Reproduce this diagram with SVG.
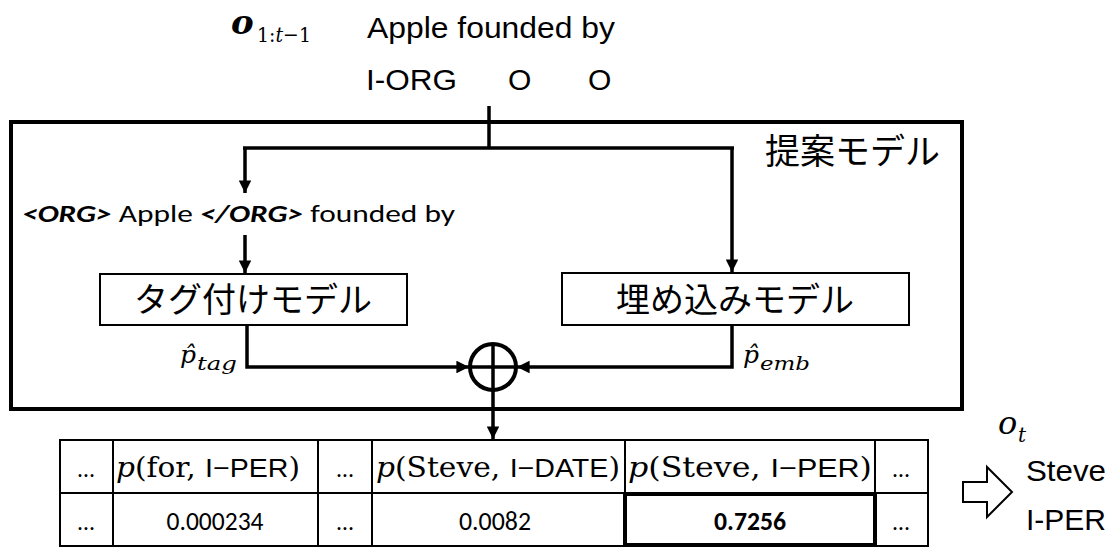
<svg xmlns="http://www.w3.org/2000/svg" width="1115" height="548" viewBox="0 0 1115 548">
<style>
.sans{font-family:"Liberation Sans",Arial,sans-serif;fill:#000}
.cal{font-family:"Carlito","Liberation Sans",sans-serif;fill:#000}
.jp{font-family:"Noto Sans CJK JP","Noto Sans",sans-serif;fill:#000}
.math{font-family:"DejaVu Serif","Liberation Serif",serif;font-style:italic;fill:#000}
.rm{font-family:"DejaVu Serif","Liberation Serif",serif;font-style:normal;fill:#000}
.line{fill:none;stroke:#000;stroke-width:3.5}
.box{fill:#fff;stroke:#000;stroke-width:2}
.cell{fill:none;stroke:#000;stroke-width:2}
</style>
<defs>
<marker id="ah" viewBox="0 0 10 10" refX="10" refY="5" markerWidth="3.6" markerHeight="3.6" orient="auto" markerUnits="strokeWidth">
<path d="M0,0 L10,5 L0,10 z" fill="#000"/>
</marker>
</defs>

<g id="input">
<text class="math" x="231" y="34" font-size="34" font-weight="bold">o</text>
<text class="rm" x="257" y="42" font-size="21" textLength="54" lengthAdjust="spacingAndGlyphs">1:<tspan class="math">t</tspan>−1</text>
<text class="sans" x="367" y="38" font-size="30" textLength="248" lengthAdjust="spacingAndGlyphs">Apple  founded by</text>
<text class="sans" x="366" y="90" font-size="30" textLength="91" lengthAdjust="spacingAndGlyphs">I-ORG</text>
<text class="sans" x="508" y="90" font-size="30">O</text>
<text class="sans" x="588" y="90" font-size="30">O</text>
</g>

<g id="proposed-model">
<rect x="11" y="122" width="951" height="287" fill="none" stroke="#000" stroke-width="4"/>
<text class="jp" x="765" y="164" font-size="35">提案モデル</text>
</g>

<g id="tagged-text">
<text class="cal" x="22" y="222" font-size="25" textLength="433" lengthAdjust="spacingAndGlyphs"><tspan font-weight="bold" font-style="italic">&lt;ORG&gt;</tspan> Apple <tspan font-weight="bold" font-style="italic">&lt;/ORG&gt;</tspan> founded by</text>
</g>

<g id="tag-model">
<rect class="box" x="100" y="274" width="307" height="51"/>
<text class="jp" x="253" y="312" font-size="34" text-anchor="middle">タグ付けモデル</text>
</g>

<g id="emb-model">
<rect class="box" x="562" y="273" width="347" height="52"/>
<text class="jp" x="735" y="312" font-size="34" text-anchor="middle">埋め込みモデル</text>
</g>

<g id="sum">
<circle cx="493" cy="367" r="23" fill="none" stroke="#000" stroke-width="4"/>
<line x1="470" y1="367" x2="516" y2="367" stroke="#000" stroke-width="3.5"/>
<line x1="493" y1="344" x2="493" y2="390" stroke="#000" stroke-width="3.5"/>
</g>

<g id="labels">
<text class="math" x="180" y="363" font-size="25">p&#x302;</text>
<text class="math" x="197" y="370" font-size="18" textLength="40" lengthAdjust="spacingAndGlyphs">tag</text>
<text class="math" x="743" y="363" font-size="25">p&#x302;</text>
<text class="math" x="760" y="370" font-size="18" textLength="50" lengthAdjust="spacingAndGlyphs">emb</text>
</g>

<g id="connectors">
<line class="line" x1="489" y1="106" x2="489" y2="148"/>
<line class="line" x1="243" y1="148" x2="734" y2="148"/>
<line class="line" x1="245" y1="148" x2="245" y2="193" marker-end="url(#ah)"/>
<line class="line" x1="732" y1="148" x2="732" y2="272" marker-end="url(#ah)"/>
<line class="line" x1="245" y1="235" x2="245" y2="273" marker-end="url(#ah)"/>
<polyline class="line" points="247,325 247,367 469,367" marker-end="url(#ah)"/>
<polyline class="line" points="732,325 732,367 517,367" marker-end="url(#ah)"/>
<line class="line" x1="493" y1="391" x2="493" y2="439" marker-end="url(#ah)"/>
</g>

<g id="table">
<rect class="cell" x="60" y="440" width="868" height="106"/>
<line class="cell" x1="60" y1="493" x2="928" y2="493"/>
<line class="cell" x1="113" y1="440" x2="113" y2="546"/>
<line class="cell" x1="318" y1="440" x2="318" y2="546"/>
<line class="cell" x1="372" y1="440" x2="372" y2="546"/>
<line class="cell" x1="625" y1="440" x2="625" y2="546"/>
<line class="cell" x1="875" y1="440" x2="875" y2="546"/>
<rect x="625" y="494" width="250" height="51" fill="none" stroke="#000" stroke-width="4"/>

<text class="cal" x="86" y="477" font-size="24" text-anchor="middle">…</text>
<text class="cal" x="345" y="477" font-size="24" text-anchor="middle">…</text>
<text class="cal" x="901" y="477" font-size="24" text-anchor="middle">…</text>
<text class="cal" x="86" y="530" font-size="24" text-anchor="middle">…</text>
<text class="cal" x="345" y="530" font-size="24" text-anchor="middle">…</text>
<text class="cal" x="901" y="530" font-size="24" text-anchor="middle">…</text>

<text x="116" y="477" font-size="27" textLength="184" lengthAdjust="spacingAndGlyphs"><tspan class="math">p</tspan><tspan class="rm">(for, </tspan><tspan class="sans" font-size="26">I−PER</tspan><tspan class="rm">)</tspan></text>
<text x="376" y="477" font-size="27" textLength="244" lengthAdjust="spacingAndGlyphs"><tspan class="math">p</tspan><tspan class="rm">(Steve, </tspan><tspan class="sans" font-size="26">I−DATE</tspan><tspan class="rm">)</tspan></text>
<text x="628" y="477" font-size="27" textLength="244" lengthAdjust="spacingAndGlyphs"><tspan class="math">p</tspan><tspan class="rm">(Steve, </tspan><tspan class="sans" font-size="26">I−PER</tspan><tspan class="rm">)</tspan></text>

<text class="cal" x="215" y="530" font-size="27" text-anchor="middle" textLength="97" lengthAdjust="spacingAndGlyphs">0.000234</text>
<text class="cal" x="495" y="530" font-size="27" text-anchor="middle" textLength="72" lengthAdjust="spacingAndGlyphs">0.0082</text>
<text class="cal" x="750" y="530" font-size="27" text-anchor="middle" font-weight="bold" textLength="72" lengthAdjust="spacingAndGlyphs">0.7256</text>
</g>

<g id="output">
<path d="M963,482 L987,482 L987,467 L1012,492 L987,517 L987,502 L963,502 Z" fill="#fff" stroke="#000" stroke-width="2"/>
<text class="math" x="998" y="434" font-size="32">o</text>
<text class="math" x="1018" y="442" font-size="20">t</text>
<text class="sans" x="1026" y="481" font-size="30" textLength="80" lengthAdjust="spacingAndGlyphs">Steve</text>
<text class="sans" x="1026" y="530" font-size="30" textLength="80" lengthAdjust="spacingAndGlyphs">I-PER</text>
</g>
</svg>
